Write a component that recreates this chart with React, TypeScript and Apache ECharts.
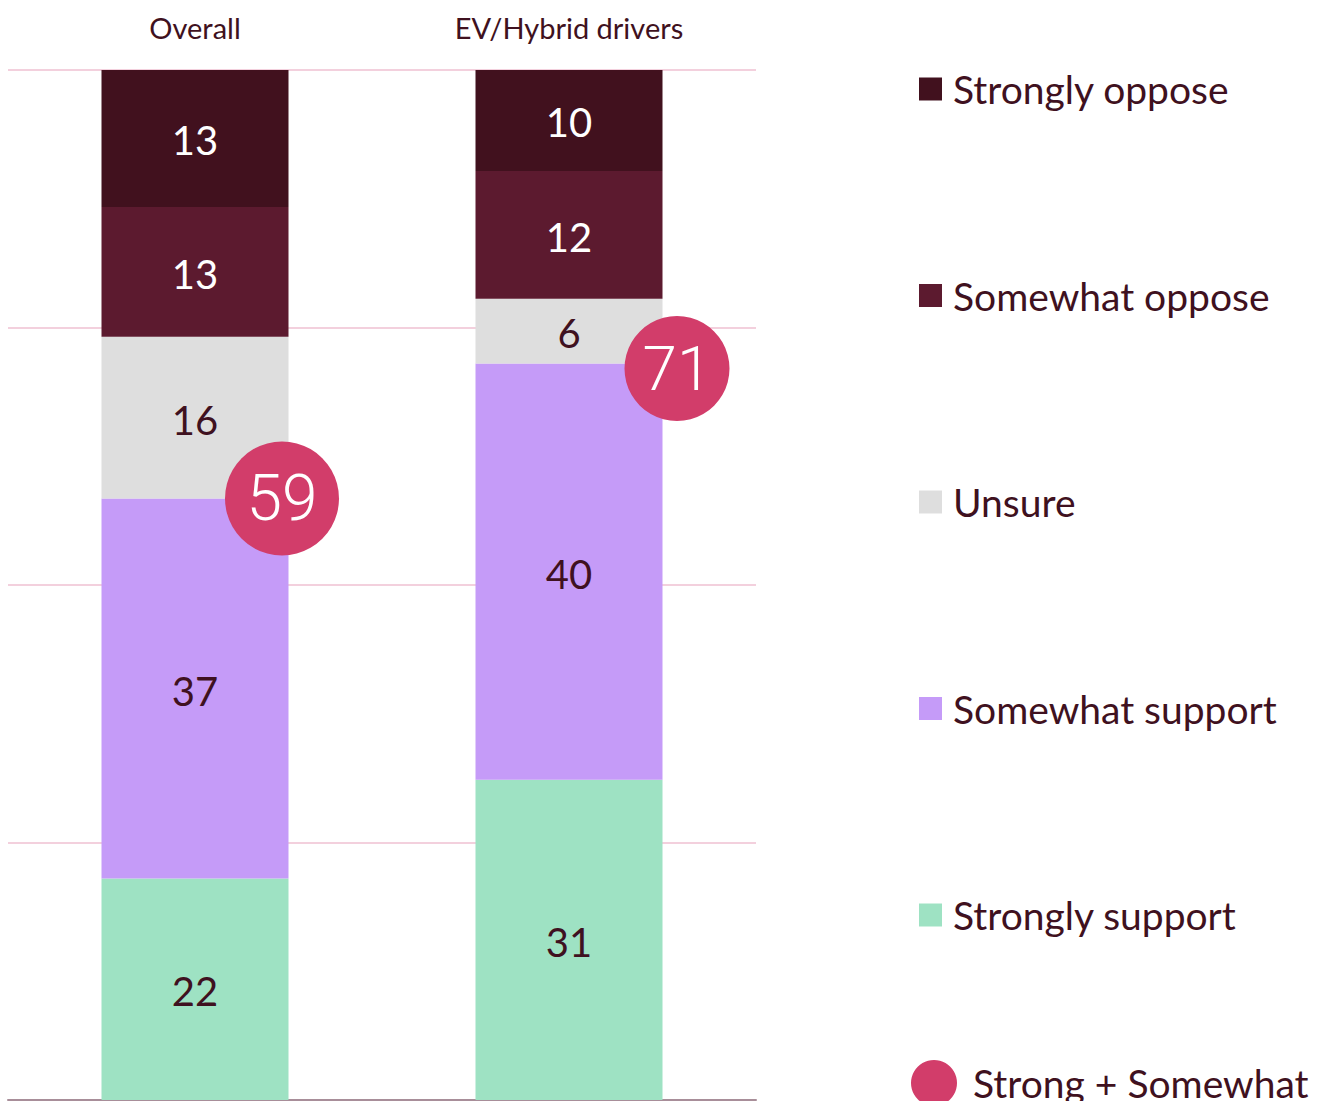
import React, { useEffect, useRef } from "react";
import * as echarts from "echarts";

const categories = ["Overall", "EV/Hybrid drivers"];
const stronglySupport = [21.5, 31.1];
const somewhatSupport = [36.9, 40.4];
const unsure = [15.7, 6.3];
const somewhatOppose = [12.6, 12.4];
const stronglyOppose = [13.3, 9.8];
const netSupport = [59, 71];
const yTicks = [0, 25, 50, 75, 100];

const DARK = "#3f1120";
const FONT = "Lato, 'Noto Sans', sans-serif";

export default function App() {
  const ref = useRef<HTMLDivElement>(null);
  useEffect(() => {
    if (!ref.current) return;
    const chart = echarts.init(ref.current, undefined, { renderer: "svg" });

    const barSeries = (name: string, data: number[], color: string, labelColor: string) => ({
      name,
      type: "bar",
      stack: "total",
      data,
      barWidth: "50%",
      itemStyle: { color },
      label: {
        show: true,
        position: "inside",
        color: labelColor,
        fontSize: 40,
        fontFamily: FONT,
        offset: [0, 2],
        formatter: (p: any) => String(Math.round(p.value)),
      },
      emphasis: { disabled: true },
    });

    const circleData = categories.map((_, i) => ({
      value: [i, stronglySupport[i] + somewhatSupport[i]],
      symbolSize: i === 0 ? 114 : 105,
      symbolOffset: i === 0 ? [87, 0] : [108, 5],
      label: {
        show: true,
        position: "inside",
        formatter: String(netSupport[i]),
        color: "#ffffff",
        fontSize: i === 0 ? 64 : 62,
        fontFamily: "Roboto, sans-serif",
        fontWeight: 300,
      },
    }));

    chart.setOption({
      animation: false,
      backgroundColor: "#ffffff",
      grid: { left: 8, right: 571, top: 70, bottom: 1, containLabel: false },
      xAxis: [
        {
          type: "category",
          data: categories,
          position: "top",
          axisLine: { show: false },
          axisTick: { show: false },
          axisLabel: { color: DARK, fontSize: 29, fontFamily: FONT, margin: 28 },
        },
        {
          type: "category",
          data: categories,
          position: "bottom",
          axisLine: { show: true, lineStyle: { color: "#a88e99", width: 2 } },
          axisTick: { show: false },
          axisLabel: { show: false },
        },
      ],
      yAxis: {
        type: "value",
        min: yTicks[0],
        max: yTicks[yTicks.length - 1],
        interval: 25,
        axisLabel: { show: false },
        axisLine: { show: false },
        axisTick: { show: false },
        splitLine: { lineStyle: { color: "#f3d0dd", width: 2 } },
      },
      legend: [
        {
          orient: "vertical",
          left: 919,
          top: 69,
          padding: 0,
          itemWidth: 23,
          itemHeight: 23,
          itemGap: 166.5,
          icon: "rect",
          data: ["Strongly oppose", "Somewhat oppose", "Unsure", "Somewhat support", "Strongly support"],
          textStyle: { color: DARK, fontSize: 39, fontFamily: FONT, lineHeight: 40, padding: [0, 0, 0, 6] },
          selectedMode: false,
        },
        {
          orient: "vertical",
          left: 911,
          top: 1060,
          padding: 0,
          itemWidth: 46,
          itemHeight: 46,
          icon: "circle",
          data: ["Strong + Somewhat"],
          textStyle: { color: DARK, fontSize: 39, fontFamily: FONT, lineHeight: 40, padding: [0, 0, 0, 11] },
          selectedMode: false,
        },
      ],
      series: [
        barSeries("Strongly support", stronglySupport, "#9ee2c3", DARK),
        barSeries("Somewhat support", somewhatSupport, "#c59bf8", DARK),
        barSeries("Unsure", unsure, "#dedede", DARK),
        barSeries("Somewhat oppose", somewhatOppose, "#5c1a2f", "#ffffff"),
        barSeries("Strongly oppose", stronglyOppose, "#41111e", "#ffffff"),
        {
          name: "Strong + Somewhat",
          type: "scatter",
          z: 5,
          symbol: "circle",
          itemStyle: { color: "#d23d6a", opacity: 1 },
          data: circleData,
          emphasis: { disabled: true },
        },
      ],
    });
    return () => chart.dispose();
  }, []);
  return <div ref={ref} style={{ width: 1327, height: 1101, position: "absolute", left: 0, top: 0 }} />;
}
